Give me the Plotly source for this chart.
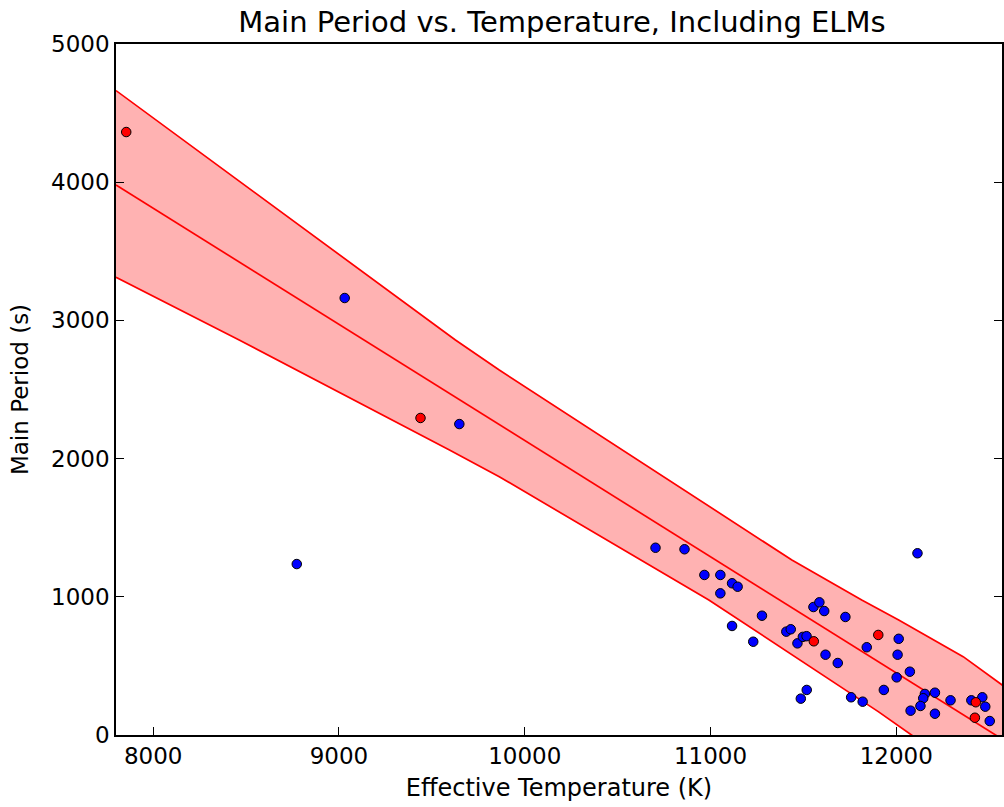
import plotly.graph_objects as go

# Band (fit and its upper / lower bounds)
fit_T = [7800, 12600]
fit_P = [3980, -55]

upper_T = [7800, 9627, 9863, 11438, 11814, 12013, 12360, 12600]
upper_P = [4663, 2858, 2641, 1266, 977, 832, 567, 332]

lower_T = [7800, 8463, 9595, 9863, 10991, 11903, 12082, 12600]
lower_P = [3312, 2858, 2062, 1869, 977, 169, 0, -489]

# Non-ELM stars (blue)
blue_T = [9031, 9648, 8773, 10704, 10860, 10967, 11053, 11116, 11146, 11053,
          11277, 11116, 11230, 11408, 11432, 11468, 11497, 11517, 11554, 11586,
          11612, 11726, 11619, 11685, 11841, 12013, 12007, 12002, 11933, 11518,
          11486, 11757, 11819, 12073, 12114, 12154, 12208, 12145, 12130, 12077,
          12208, 12292, 12404, 12463, 12479, 12503]
blue_P = [3162, 2250, 1237, 1355, 1344, 1158, 1158, 1098, 1073, 1025,
          863, 789, 675, 748, 765, 663, 710, 715, 926, 960,
          897, 854, 581, 521, 635, 696, 581, 417, 326, 326,
          263, 273, 241, 458, 1315, 297, 306, 266, 210, 176,
          154, 251, 251, 273, 205, 101]

# ELMs (red)
red_T = [7855, 9439, 11556, 11903, 12428, 12423]
red_P = [4363, 2294, 678, 724, 237, 125]

x_ticks = [8000, 9000, 10000, 11000, 12000]
y_ticks = [0, 1000, 2000, 3000, 4000, 5000]

fig = go.Figure()

line_style = dict(color="red", width=1.7)
fig.add_trace(go.Scatter(x=lower_T, y=lower_P, mode="lines",
                         line=line_style, showlegend=False))
fig.add_trace(go.Scatter(x=upper_T, y=upper_P, mode="lines",
                         line=line_style, fill="tonexty",
                         fillcolor="rgba(255,0,0,0.3)", showlegend=False))
fig.add_trace(go.Scatter(x=fit_T, y=fit_P, mode="lines",
                         line=line_style, showlegend=False))

fig.add_trace(go.Scatter(x=blue_T, y=blue_P, mode="markers",
                         marker=dict(color="blue", size=9.5,
                                     line=dict(color="black", width=1)),
                         showlegend=False))
fig.add_trace(go.Scatter(x=red_T, y=red_P, mode="markers",
                         marker=dict(color="red", size=9.5,
                                     line=dict(color="black", width=1)),
                         showlegend=False))

tick_font = dict(family="DejaVu Sans", size=23, color="black")

fig.update_layout(
    width=1004, height=807,
    margin=dict(l=116, r=0, t=44, b=72),
    paper_bgcolor="white", plot_bgcolor="white",
    font=dict(family="DejaVu Sans", size=23, color="black"),
    title=dict(text="Main Period vs. Temperature, Including ELMs",
               x=0.5034, xref="paper", xanchor="center",
               y=1 - 22 / 807, yref="container", yanchor="middle",
               font=dict(family="DejaVu Sans", size=29, color="black")),
    xaxis=dict(range=[7800, 12569], tickvals=x_ticks,
               ticktext=[str(v) for v in x_ticks],
               showgrid=False, zeroline=False,
               showline=True, linecolor="black", linewidth=1.5, mirror=True,
               ticks="inside", ticklen=8, tickcolor="black", tickwidth=1,
               tickfont=tick_font,
               title=dict(text="Effective Temperature (K)",
                          font=dict(family="DejaVu Sans", size=24, color="black"),
                          standoff=11)),
    yaxis=dict(range=[0, 5000], tickvals=y_ticks,
               ticktext=[str(v) for v in y_ticks],
               showgrid=False, zeroline=False,
               showline=True, linecolor="black", linewidth=1.5, mirror="ticks",
               ticks="inside", ticklen=8, tickcolor="black", tickwidth=1,
               tickfont=tick_font,
               title=dict(text="Main Period (s)",
                          font=dict(family="DejaVu Sans", size=23, color="black"),
                          standoff=16)),
)

fig.write_html(
    "out.html",
    config={"displayModeBar": False},
    post_script="document.body.style.margin='0';"
                "document.body.style.overflow='hidden';",
)
